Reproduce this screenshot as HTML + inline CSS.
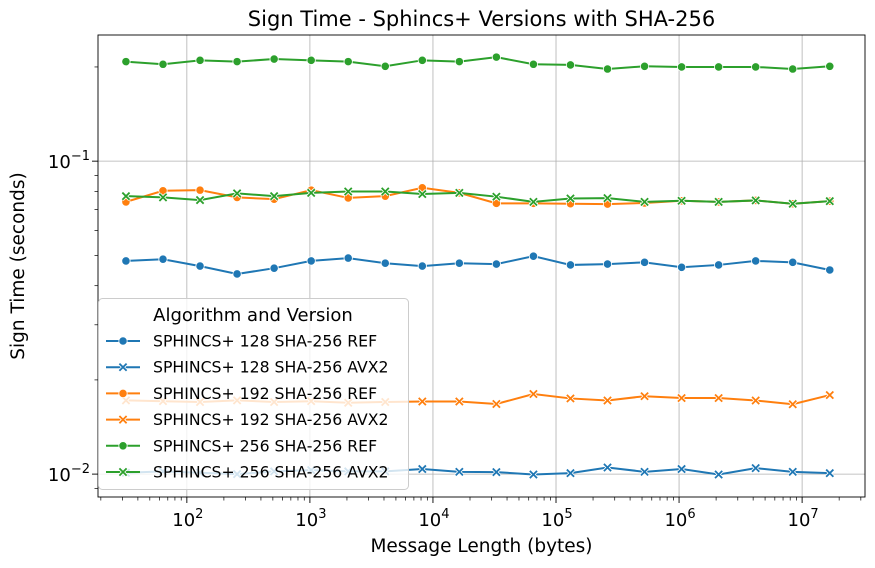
<!DOCTYPE html>
<html><head><meta charset="utf-8"><style>
body{margin:0;background:#fff;font-family:"DejaVu Sans","Liberation Sans",sans-serif}
</style></head><body>
<svg id="chart" width="875" height="564" xmlns="http://www.w3.org/2000/svg" font-family="DejaVu Sans, Liberation Sans, sans-serif"></svg>
<script>
const xValues=[32,64,128,256,512,1024,2048,4096,8192,16384,32768,65536,131072,262144,524288,1048576,2097152,4194304,8388608,16777216];
const s128ref=[.048,.0486,.0462,.0436,.0455,.048,.049,.0472,.0462,.0472,.0469,.0497,.0466,.0469,.0475,.0458,.0466,.048,.0475,.0449];
const s128avx=[.0101,.0102,.0101,.0100,.0102,.0103,.0102,.0102,.01038,.01017,.01015,.00997,.01007,.0105,.01017,.01038,.00997,.01045,.01017,.01007];
const s192ref=[.0741,.0804,.0808,.0766,.0756,.0808,.0763,.0773,.0822,.0792,.0733,.0733,.0731,.0729,.0735,.0747,.0741,.0749,.0731,.0745];
const s192avx=[.0172,.0171,.0170,.0172,.0170,.0171,.0169,.0170,.01706,.01706,.01675,.01803,.01745,.01719,.01774,.0175,.0175,.01719,.01672,.01789];
const s256ref=[.208,.204,.210,.208,.212,.210,.208,.201,.210,.208,.215,.204,.203,.197,.201,.200,.200,.200,.197,.201];
const s256avx=[.0773,.0766,.0751,.0789,.0773,.0792,.0800,.0800,.0785,.0792,.0770,.0741,.0760,.0762,.0741,.0747,.0741,.0749,.0731,.0745];
const seriesNames=["SPHINCS+ 128 SHA-256 REF","SPHINCS+ 128 SHA-256 AVX2","SPHINCS+ 192 SHA-256 REF","SPHINCS+ 192 SHA-256 AVX2","SPHINCS+ 256 SHA-256 REF","SPHINCS+ 256 SHA-256 AVX2"];
const xTickExps=[2,3,4,5,6,7];
const yTickExps=[-1,-2];

const NS="http://www.w3.org/2000/svg";
const svg=document.getElementById('chart');
const L=98,R=865,T=35,B=497;
const xmin=1.278,xmax=7.511,ymin=Math.log10(0.00845),ymax=Math.log10(0.253);
const xs=v=>L+(Math.log10(v)-xmin)/(xmax-xmin)*(R-L);
const ys=v=>B-(Math.log10(v)-ymin)/(ymax-ymin)*(B-T);
function el(t,a,p){const e=document.createElementNS(NS,t);for(const k in a)e.setAttribute(k,a[k]);(p||svg).appendChild(e);return e;}

const grid=el('g',{});


const axes=el('g',{});


xTickExps.forEach(e=>{const x=xs(Math.pow(10,e));
 el('line',{x1:x,x2:x,y1:T,y2:B,stroke:'#b0b0b0','stroke-width':0.8},grid);
 el('line',{x1:x,x2:x,y1:B,y2:B+6,stroke:'#000','stroke-width':0.9},axes);
 const t=el('text',{x:x+1,y:B+29,'font-size':18,'text-anchor':'middle'},axes);
 
 
 t.innerHTML='10<tspan dy="-8" font-size="13">'+e+'</tspan>';
});
for(let e=1;e<=7;e++)for(let m=2;m<=9;m++){const v=m*Math.pow(10,e);const x=xs(v);if(x<L||x>R)continue;
 el('line',{x1:x,x2:x,y1:B,y2:B+3.5,stroke:'#000','stroke-width':0.7},axes);}
yTickExps.forEach(e=>{const y=ys(Math.pow(10,e));
 el('line',{x1:L,x2:R,y1:y,y2:y,stroke:'#b0b0b0','stroke-width':0.8},grid);
 el('line',{x1:L-6,x2:L,y1:y,y2:y,stroke:'#000','stroke-width':0.9},axes);
 const t=el('text',{x:L-8,y:y+7,'font-size':18,'text-anchor':'end'},axes);
 
 
 t.innerHTML='10<tspan dy="-8" font-size="13">\u2212'+(-e)+'</tspan>';
});
for(let e=-3;e<=-1;e++)for(let m=2;m<=9;m++){const v=m*Math.pow(10,e);const y=ys(v);if(y<T||y>B)continue;
 el('line',{x1:L-3.5,x2:L,y1:y,y2:y,stroke:'#000','stroke-width':0.7},axes);}

const data=[s128ref,s128avx,s192ref,s192avx,s256ref,s256avx];
const colors=['#1f77b4','#1f77b4','#ff7f0e','#ff7f0e','#2ca02c','#2ca02c'];
function marker(g,x,y,i){
 if(i%2===0){el('circle',{cx:x,cy:y,r:4.2,fill:colors[i],stroke:'#fff','stroke-width':0.8},g);}
 else{const d=3.6;el('path',{d:`M${x-d},${y-d}L${x+d},${y+d}M${x-d},${y+d}L${x+d},${y-d}`,stroke:'#fff','stroke-width':3.4},g);
  el('path',{d:`M${x-d},${y-d}L${x+d},${y+d}M${x-d},${y+d}L${x+d},${y-d}`,stroke:colors[i],'stroke-width':1.8},g);}
}
data.forEach((arr,i)=>{
 const g=el('g',{});
 
 
 const pts=arr.map((v,k)=>xs(xValues[k])+','+ys(v)).join(' ');
 el('polyline',{points:pts,fill:'none',stroke:colors[i],'stroke-width':2},g);
 arr.forEach((v,k)=>marker(g,xs(xValues[k]),ys(v),i));
});
el('rect',{x:L,y:T,width:R-L,height:B-T,fill:'none',stroke:'#000','stroke-width':0.9},axes);

const title=el('text',{x:(L+R)/2,y:26,'font-size':21,'text-anchor':'middle'});


title.textContent='Sign Time - Sphincs+ Versions with SHA-256';
const xt=el('text',{x:(L+R)/2,y:552,'font-size':18.5,'text-anchor':'middle'});


xt.textContent='Message Length (bytes)';
const yt=el('text',{x:24,y:(T+B)/2,'font-size':18.5,'text-anchor':'middle',transform:`rotate(-90 24 ${(T+B)/2})`});


yt.textContent='Sign Time (seconds)';

const lg=el('g',{});


el('rect',{x:98.5,y:298.5,width:310,height:191,rx:4,fill:'#fff','fill-opacity':0.8,stroke:'#ccc'},lg);
const lt=el('text',{x:253,y:321,'font-size':18,'text-anchor':'middle'},lg);
lt.textContent='Algorithm and Version';
seriesNames.forEach((n,i)=>{
 const y=341+i*26.2;
 const e=el('g',{},lg);
 
 
 el('line',{x1:106,x2:140,y1:y,y2:y,stroke:colors[i],'stroke-width':2},e);
 marker(e,123,y,i);
 const t=el('text',{x:153,y:y+5.5,'font-size':15.7},e);
 t.textContent=n;
});
</script>
</body></html>
